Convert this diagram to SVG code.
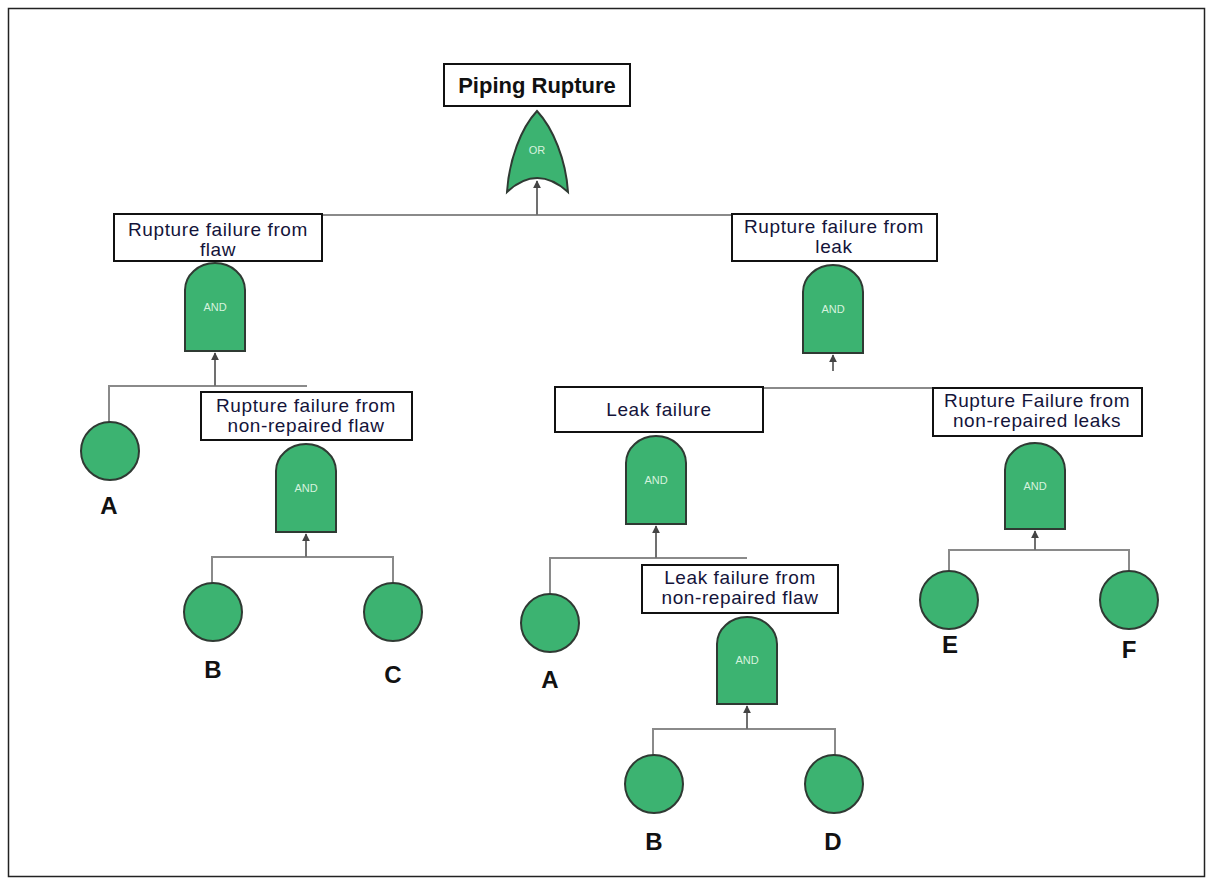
<svg xmlns="http://www.w3.org/2000/svg" width="1212" height="884" viewBox="0 0 1212 884">
<style>
.bg{fill:#fff}
.frame{fill:none;stroke:#222;stroke-width:1.5}
.box{fill:#fff;stroke:#111;stroke-width:2}
.gate{fill:#3cb371;stroke:#2f3a33;stroke-width:2}
.evt{fill:#3cb371;stroke:#2f3a33;stroke-width:2}
.conn{fill:none;stroke:#8a8a8a;stroke-width:2}
.arr{fill:none;stroke:#707070;stroke-width:2;marker-end:url(#ah)}
.t{font-family:"Liberation Sans",Arial,sans-serif;font-size:19px;letter-spacing:0.6px;fill:#14143a;text-anchor:middle}
.tb{font-family:"Liberation Sans",Arial,sans-serif;font-size:22px;font-weight:bold;fill:#111;text-anchor:middle}
.gl{font-family:"Liberation Sans",Arial,sans-serif;font-size:11px;fill:#d6f2de;text-anchor:middle}
.lb{font-family:"Liberation Sans",Arial,sans-serif;font-size:24px;font-weight:bold;fill:#111;text-anchor:middle}
</style>
<defs>
<marker id="ah" viewBox="0 0 10 10" refX="9" refY="5" markerWidth="4" markerHeight="4" orient="auto" markerUnits="strokeWidth">
<path d="M0,0 L10,5 L0,10 Z" fill="#444"/>
</marker>
</defs>
<rect class="bg" x="0" y="0" width="1212" height="884"/>
<rect class="frame" x="8.5" y="8.5" width="1196" height="868"/>

<g id="connectors">
<path class="conn" d="M215,215 H735"/>
<path class="arr" d="M537,215 V181"/>
<path class="conn" d="M307,386 H109 V422"/>
<path class="arr" d="M215,386 V353"/>
<path class="conn" d="M212,583 V557 H393 V583"/>
<path class="arr" d="M306,557 V534"/>
<path class="conn" d="M700,388 H1000"/>
<path class="arr" d="M833,371 V355"/>
<path class="conn" d="M747,558 H550 V594"/>
<path class="arr" d="M656,558 V526"/>
<path class="conn" d="M653,755 V729 H835 V755"/>
<path class="arr" d="M747,729 V706"/>
<path class="conn" d="M949,571 V550 H1129 V571"/>
<path class="arr" d="M1035,550 V531"/>
</g>

<g id="top">
<rect class="box" x="444" y="64" width="186" height="42"/>
<text class="tb" x="537" y="93">Piping Rupture</text>
<path class="gate" d="M537,111 C553,128 566,160 568,192 Q537,164 507,192 C509,160 521,128 537,111 Z"/>
<text class="gl" x="537" y="154">OR</text>
</g>

<g id="rupture-flaw">
<rect class="box" x="114" y="214" width="208" height="47"/>
<text class="t" x="218" y="236">Rupture failure from</text>
<text class="t" x="218" y="256">flaw</text>
<path class="gate" d="M185,351 V290 A30 27 0 0 1 245,290 V351 Z"/>
<text class="gl" x="215" y="311">AND</text>
</g>

<g id="rupture-nonrep-flaw">
<rect class="box" x="201" y="392" width="211" height="48"/>
<text class="t" x="306" y="412">Rupture failure from</text>
<text class="t" x="306" y="432">non-repaired flaw</text>
<path class="gate" d="M276,532 V471 A30 27 0 0 1 336,471 V532 Z"/>
<text class="gl" x="306" y="492">AND</text>
</g>

<g id="rupture-leak">
<rect class="box" x="732" y="214" width="205" height="47"/>
<text class="t" x="834" y="233">Rupture failure from</text>
<text class="t" x="834" y="253">leak</text>
<path class="gate" d="M803,353 V292 A30 27 0 0 1 863,292 V353 Z"/>
<text class="gl" x="833" y="313">AND</text>
</g>

<g id="leak-failure">
<rect class="box" x="555" y="387" width="208" height="45"/>
<text class="t" x="659" y="416">Leak failure</text>
<path class="gate" d="M626,524 V463 A30 27 0 0 1 686,463 V524 Z"/>
<text class="gl" x="656" y="484">AND</text>
</g>

<g id="leak-nonrep-flaw">
<rect class="box" x="642" y="565" width="196" height="48"/>
<text class="t" x="740" y="584">Leak failure from</text>
<text class="t" x="740" y="604">non-repaired flaw</text>
<path class="gate" d="M717,704 V644 A30 27 0 0 1 777,644 V704 Z"/>
<text class="gl" x="747" y="664">AND</text>
</g>

<g id="rupture-nonrep-leaks">
<rect class="box" x="933" y="388" width="209" height="48"/>
<text class="t" x="1037" y="407">Rupture Failure from</text>
<text class="t" x="1037" y="427">non-repaired leaks</text>
<path class="gate" d="M1005,529 V470 A30 27 0 0 1 1065,470 V529 Z"/>
<text class="gl" x="1035" y="490">AND</text>
</g>

<g id="event-A1"><circle class="evt" cx="110" cy="451" r="29"/><text class="lb" x="109" y="514">A</text></g>
<g id="event-B1"><circle class="evt" cx="213" cy="612" r="29"/><text class="lb" x="213" y="678">B</text></g>
<g id="event-C1"><circle class="evt" cx="393" cy="612" r="29"/><text class="lb" x="393" y="683">C</text></g>
<g id="event-A2"><circle class="evt" cx="550" cy="623" r="29"/><text class="lb" x="550" y="688">A</text></g>
<g id="event-B2"><circle class="evt" cx="654" cy="784" r="29"/><text class="lb" x="654" y="850">B</text></g>
<g id="event-D"><circle class="evt" cx="834" cy="784" r="29"/><text class="lb" x="833" y="850">D</text></g>
<g id="event-E"><circle class="evt" cx="949" cy="600" r="29"/><text class="lb" x="950" y="653">E</text></g>
<g id="event-F"><circle class="evt" cx="1129" cy="600" r="29"/><text class="lb" x="1129" y="658">F</text></g>
</svg>
